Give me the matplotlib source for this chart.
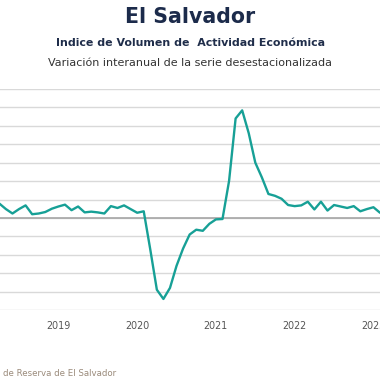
import matplotlib.pyplot as plt
import numpy as np

# months since Jan 2020 (Apr 2018 .. Feb 2023)
months = list(range(-21, 38))
ivae = [3.9, 2.4, 1.2, 2.4, 3.4, 1.0, 1.2, 1.6, 2.5, 3.1, 3.6, 2.1,
        3.1, 1.5, 1.7, 1.5, 1.2, 3.2, 2.7, 3.4, 2.4,
        1.4, 1.8, -8.6, -19.5, -22.0, -19.0, -13.0, -8.3, -4.5, -3.2, -3.5, -1.6,
        -0.4, -0.3, 10.0, 27.0, 29.2, 23.0, 15.0, 11.0, 6.5, 6.0, 5.2, 3.5,
        3.2, 3.4, 4.4, 2.3, 4.4, 2.0, 3.5, 3.1, 2.7, 3.2, 1.8, 2.4, 2.9, 1.4]
year_ticks = [-12, 0, 12, 24, 36]
year_labels = ["2019", "2020", "2021", "2022", "2023"]

fig = plt.figure(figsize=(3.8, 3.8), dpi=100)

# plot area runs past the left/right edges (cropped chart)
ax = fig.add_axes([0, 70/380, 1, 221/380])
ax.plot(months, ivae, color='#17a096', lw=1.7, solid_joinstyle='round',
        solid_capstyle='round', zorder=3)

ax.set_xlim(-20.9, 37.0)
ax.set_ylim(-25, 35)
ax.set_yticks(np.arange(-25, 36, 5))
ax.yaxis.grid(True, color='#d9d9d9', lw=1)
ax.axhline(0, color='#a6a6a6', lw=1.2, zorder=2)
ax.tick_params(axis='y', length=0, labelleft=False)
ax.set_xticks(year_ticks)
ax.set_xticklabels(year_labels, color='#555555', fontsize=6.9, family='DejaVu Sans')
ax.tick_params(axis='x', length=0, pad=8)
for s in ax.spines.values():
    s.set_visible(False)

fig.text(0.5, 1 - 17/380, "El Salvador", ha='center', va='center',
         fontsize=14.8, fontweight='bold', color='#1c2b4b', family='DejaVu Sans')
fig.text(0.5, 1 - 43/380, "Indice de Volumen de  Actividad Económica", ha='center', va='center',
         fontsize=7.9, fontweight='bold', color='#1f2d4a', family='DejaVu Sans')
fig.text(0.5, 1 - 63/380, "Variación interanual de la serie desestacionalizada", ha='center', va='center',
         fontsize=8.05, color='#333333', family='DejaVu Sans')
fig.text(3/380, 1 - 374/380, "de Reserva de El Salvador", ha='left', va='center',
         fontsize=6.2, color='#9a8a7a', family='DejaVu Sans')

fig.savefig('out.png', dpi=100)
